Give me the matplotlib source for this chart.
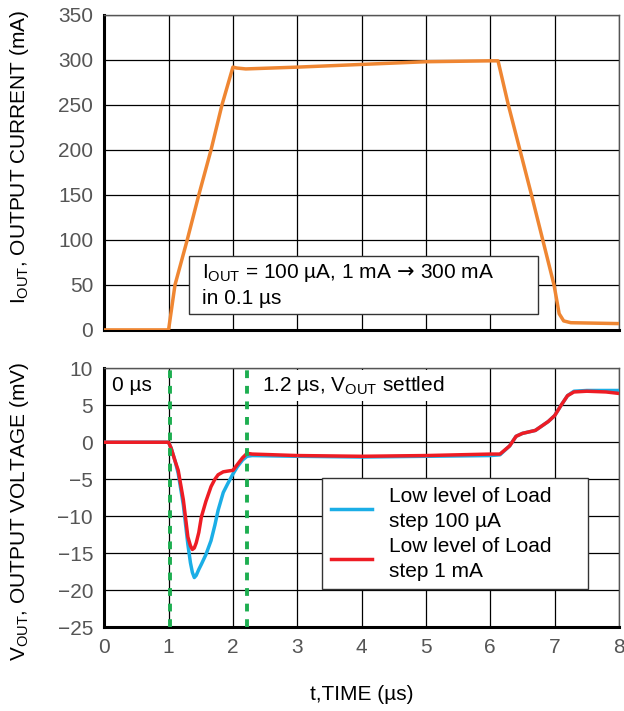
import numpy as np
import matplotlib
matplotlib.use("Agg")
import matplotlib.pyplot as plt
from matplotlib.patches import Rectangle

plt.rcParams["font.family"] = ["Liberation Sans", "DejaVu Sans"]
plt.rcParams["mathtext.fontset"] = "custom"
plt.rcParams["mathtext.rm"] = "Liberation Sans"
plt.rcParams["mathtext.it"] = "Liberation Sans"
plt.rcParams["mathtext.bf"] = "DejaVu Sans"

# output current trace (us, mA)
t_cur = [0, 1.0, 1.05, 1.1, 1.29, 1.47, 1.66, 1.83, 2.0, 2.06, 2.2, 3.0, 4.0, 5.0,
         6.0, 6.12, 6.28, 6.64, 6.99, 7.07, 7.14, 7.25, 8.0]
i_out = [0, 0, 25, 50, 100, 150, 200, 250, 292, 291, 290, 292, 295, 298,
         299, 299, 250, 150, 50, 18, 10, 8, 7]

# output voltage traces (us, mV)
t_v = [0, 1.0, 1.04, 1.1, 1.15, 1.23, 1.3, 1.34, 1.37, 1.4, 1.43, 1.47, 1.51,
       1.58, 1.66, 1.72, 1.77, 1.85, 1.92, 2.0, 2.07, 2.15, 2.22, 2.3, 3.0,
       4.0, 5.0, 6.0, 6.15, 6.3, 6.4, 6.5, 6.7, 6.9, 7.0, 7.1, 7.2, 7.3, 7.5,
       7.8, 8.0]
v_100ua = [0, 0, -0.8, -2.5, -4.2, -8.5, -13.8, -16.3, -17.6, -18.3, -18.0,
           -17.2, -16.5, -15.2, -13.3, -11.2, -9.2, -6.8, -5.6, -4.3, -3.3,
           -2.4, -1.9, -1.8, -1.9, -2.0, -1.9, -1.8, -1.7, -0.5, 0.8, 1.2, 1.6,
           2.8, 3.6, 5.0, 6.3, 6.9, 7.0, 7.0, 7.0]
v_1ma = [0, 0, -0.8, -2.5, -3.8, -7.8, -12.8, -14.0, -14.5, -14.3, -13.6,
         -12.2, -10.1, -8.0, -6.0, -5.0, -4.4, -4.0, -3.9, -3.8, -3.0, -2.1,
         -1.5, -1.6, -1.8, -1.9, -1.8, -1.6, -1.6, -0.5, 0.8, 1.2, 1.6, 2.8,
         3.6, 5.0, 6.3, 6.8, 6.9, 6.8, 6.6]

marker_t = [1.02, 2.22]

fig = plt.figure(figsize=(6.24, 7.11), dpi=100)
ax1 = fig.add_axes([0.167, 0.536, 0.825, 0.443])
ax2 = fig.add_axes([0.167, 0.118, 0.825, 0.364])

tick_color = "#555555"
fs = 15


def style(ax):
    ax.set_xlim(0, 8)
    ax.set_xticks(np.arange(0, 9, 1))
    ax.grid(True, color="black", linewidth=0.9)
    ax.set_axisbelow(True)
    ax.tick_params(length=0, labelsize=fs, labelcolor=tick_color, pad=8)
    for s in ["left", "bottom"]:
        ax.spines[s].set_linewidth(2.2)
        ax.spines[s].set_color("black")
    for s in ["top", "right"]:
        ax.spines[s].set_linewidth(1.0)
        ax.spines[s].set_color("#555555")


style(ax1)
ax1.plot(t_cur, i_out, color="#EF8632", linewidth=2.5, zorder=3)
ax1.set_ylim(0, 350)
ax1.set_yticks(np.arange(0, 351, 50))
ax1.set_xticklabels([])
ax1.set_ylabel("I$_{\\rm OUT}$, OUTPUT CURRENT (mA)", fontsize=fs)
ax1.yaxis.set_label_coords(-0.143, 0.55)
ax1.add_patch(Rectangle((0.164, 0.051), 0.678, 0.184, transform=ax1.transAxes,
                        facecolor="white", edgecolor="#333333", linewidth=1, zorder=5))
ax1.text(0.19, 0.143,
         "I$_{\\rm OUT}$ = 100 \u00b5A, 1 mA$\\,\\mathbf{\\rightarrow}\\,$300 mA\nin 0.1 \u00b5s",
         transform=ax1.transAxes, fontsize=fs, va="center", ha="left",
         linespacing=1.35, zorder=6)

style(ax2)
ax2.plot(t_v, v_100ua, color="#1BAEE6", linewidth=2.5, zorder=3,
         label="Low level of Load\nstep 100 \u00b5A")
ax2.plot(t_v, v_1ma, color="#EE1C24", linewidth=2.5, zorder=4,
         label="Low level of Load\nstep 1 mA")
for xm in marker_t:
    ax2.axvline(xm, color="#1DAE50", linewidth=2.8, linestyle=(0, (2, 2)), zorder=5)
ax2.set_ylim(-25, 10)
ax2.set_yticks(np.arange(-25, 11, 5))
ax2.set_yticklabels([str(v).replace("-", "\u2212") for v in range(-25, 11, 5)])
ax2.set_ylabel("V$_{\\rm OUT}$, OUTPUT VOLTAGE (mV)", fontsize=fs)
ax2.yaxis.set_label_coords(-0.143, 0.448)
ax2.set_xlabel("t,TIME (\u00b5s)", fontsize=fs, labelpad=20)
ax2.text(0.12, 7.7, "0 \u00b5s", fontsize=fs, va="center", ha="left", zorder=6,
         bbox=dict(boxstyle="square,pad=0.2", facecolor="white", edgecolor="none"))
ax2.text(2.45, 7.7, "1.2 \u00b5s, V$_{\\rm OUT}$ settled", fontsize=fs, va="center",
         ha="left", zorder=6,
         bbox=dict(boxstyle="square,pad=0.2", facecolor="white", edgecolor="none"))
leg = ax2.legend(loc="upper left", bbox_to_anchor=(0.424, 0.0, 0.515, 0.575),
                 mode="expand", fontsize=fs,
                 frameon=True, fancybox=False, framealpha=1, edgecolor="#333333",
                 handlelength=2.0, labelspacing=0.3, borderpad=0.4,
                 borderaxespad=0)
for t in leg.get_texts():
    t.set_linespacing(1.4)
leg.get_frame().set_linewidth(1)
leg.set_zorder(7)

fig.savefig("out.png", dpi=100)
